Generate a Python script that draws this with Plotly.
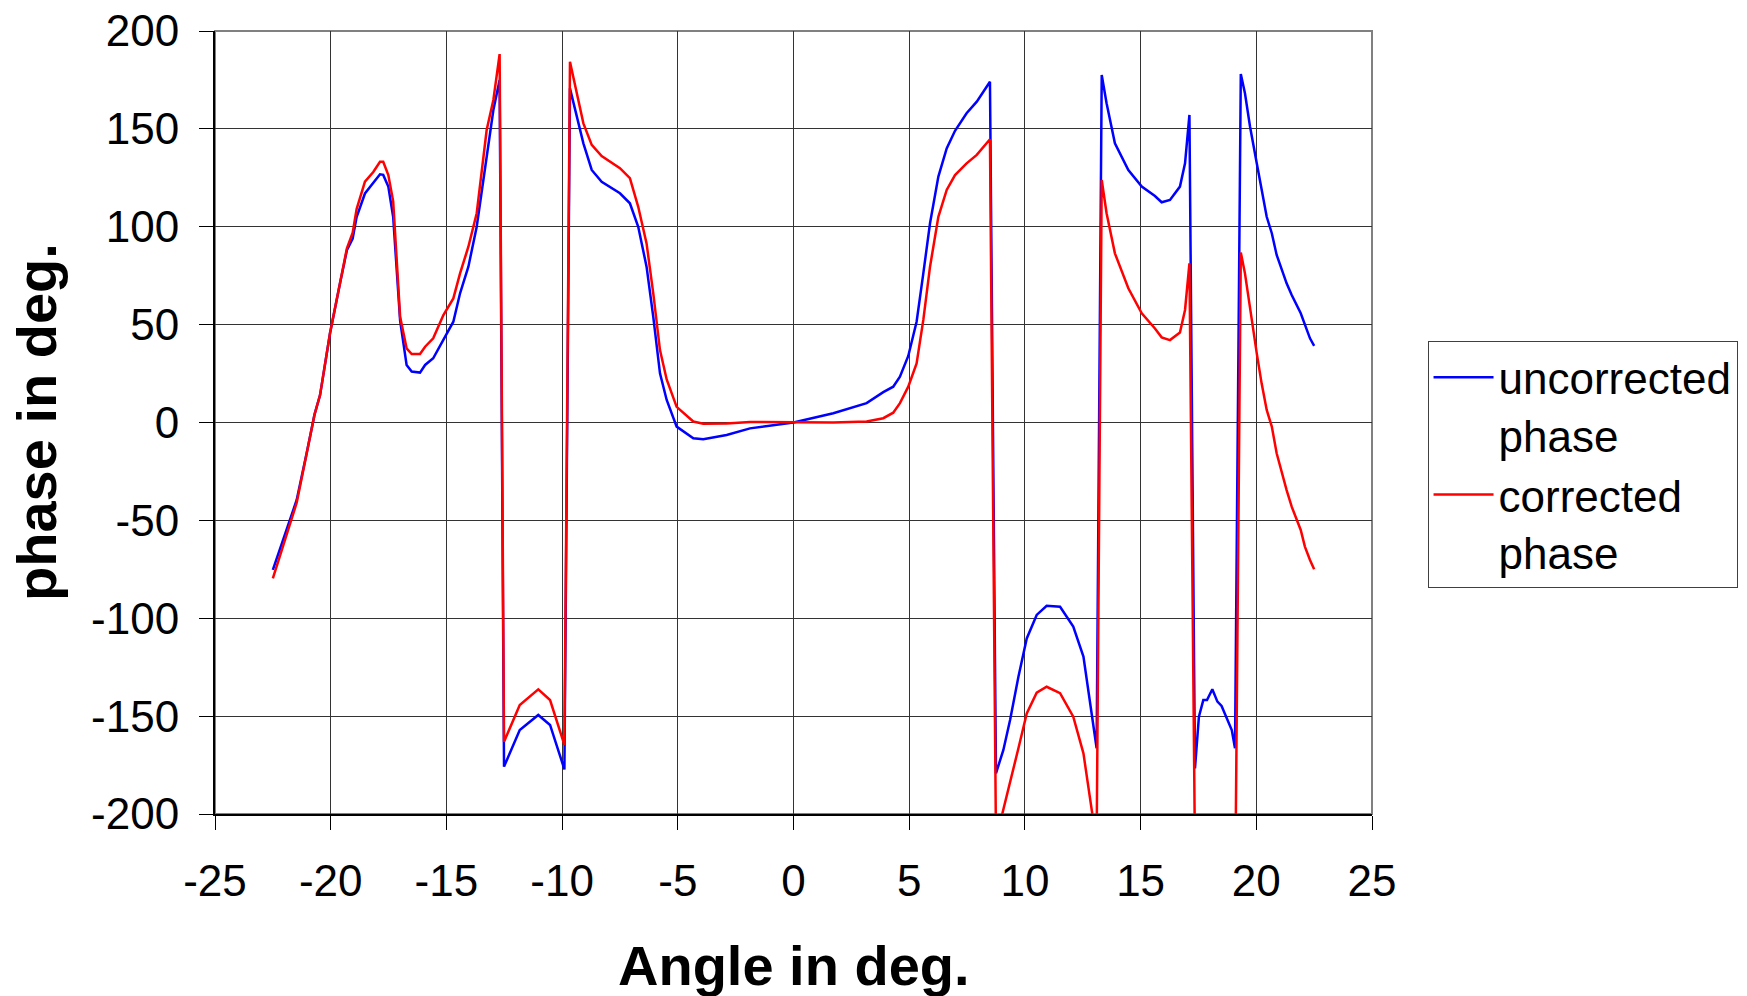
import plotly.graph_objects as go

angle = [-22.5, -21.76, -21.47, -21.04, -20.7, -20.46, -20.03, -19.6, -19.3, -19.05,
         -18.88, -18.52, -18.16, -17.87, -17.73, -17.51, -17.3, -17.0, -16.72, -16.5,
         -16.14, -15.92, -15.57, -15.13, -14.7, -14.41, -14.05, -13.69, -13.26, -12.97,
         -12.7, -12.51, -11.83, -11.03, -10.52, -9.9, -9.66, -9.08, -8.72, -8.29,
         -7.5, -7.07, -6.71, -6.35, -6.06, -5.77, -5.48, -5.05, -4.33, -3.9,
         -2.89, -1.88, 0.0, 1.72, 3.16, 3.88, 4.31, 4.6, 4.96, 5.32,
         5.61, 5.9, 6.26, 6.62, 6.98, 7.48, 7.92, 8.49, 8.75, 9.07,
         9.36, 9.72, 10.08, 10.51, 10.94, 11.52, 12.09, 12.53, 13.1, 13.32,
         13.53, 13.89, 14.47, 15.05, 15.62, 15.91, 16.27, 16.7, 16.92, 17.11,
         17.35, 17.52, 17.71, 17.87, 18.1, 18.32, 18.5, 18.7, 18.94, 19.08,
         19.33, 19.51, 19.73, 20.02, 20.23, 20.45, 20.67, 20.88, 21.31, 21.53,
         21.92, 22.1, 22.32, 22.5]

uncorrected = [-75.3, -49.8, -39.6, -15.7, 4.0, 14.0, 45.6, 71.0, 88.0, 94.0,
               105.0, 117.0, 122.5, 126.8, 126.5, 120.5, 105.0, 52.0, 29.4, 26.0,
               25.5, 29.4, 32.8, 42.1, 51.5, 66.0, 79.6, 100.0, 135.8, 159.6,
               175.0, -175.8, -157.1, -149.4, -154.5, -177.2, 170.7, 142.6, 129.0, 123.0,
               117.1, 112.0, 100.0, 79.6, 54.0, 25.1, 11.5, -2.1, -8.1, -8.6,
               -6.4, -3.0, 0.0, 4.7, 9.9, 15.5, 18.3, 23.4, 34.0, 51.5,
               76.2, 101.8, 125.6, 140.0, 149.0, 158.0, 163.9, 174.1, -179.2, -167.3,
               -152.0, -129.9, -110.3, -98.3, -93.6, -94.1, -104.3, -119.6, -166.4, 177.5,
               163.1, 142.6, 129.0, 120.5, 115.7, 112.5, 113.7, 120.5, 132.4, 157.1,
               -176.7, -150.3, -141.8, -141.8, -136.3, -142.6, -144.8, -150.3, -157.1, -166.4,
               178.0, 168.2, 151.1, 132.4, 118.8, 105.1, 96.7, 85.6, 71.1, 65.1,
               55.8, 49.8, 43.0, 39.2]

corrected = [-79.6, -52.0, -41.0, -16.0, 4.0, 14.0, 45.6, 71.0, 89.0, 97.0,
             109.0, 123.0, 128.0, 133.2, 133.2, 126.4, 113.0, 54.0, 37.9, 35.0,
             35.0, 38.7, 43.0, 54.9, 63.4, 76.2, 89.8, 106.9, 149.4, 164.8,
             188.2, -163.1, -144.3, -136.3, -141.8, -164.7, 184.3, 152.8, 141.8, 136.1,
             129.9, 124.8, 110.2, 91.5, 66.0, 37.0, 22.0, 8.0, 0.5, -0.6,
             -0.5, 0.3, 0.0, 0.0, 0.5, 2.2, 5.0, 9.9, 18.3, 30.2,
             52.4, 79.6, 105.1, 118.8, 126.4, 132.4, 136.7, 144.7, -213.0, -198.0,
             -184.3, -166.4, -148.6, -138.0, -135.0, -138.3, -150.3, -169.0, -215.0, 123.9,
             106.9, 86.4, 68.6, 55.8, 48.0, 43.5, 42.1, 46.0, 57.5, 81.3,
             -220.0, -230.0, -222.0, -222.0, -217.0, -223.0, -226.0, -232.0, -240.0, -250.0,
             86.9, 76.2, 57.5, 35.3, 20.0, 6.4, -2.1, -15.7, -34.5, -43.0,
             -54.9, -63.4, -70.2, -75.0]

x_tick_vals = [-25, -20, -15, -10, -5, 0, 5, 10, 15, 20, 25]
x_tick_text = ["-25", "-20", "-15", "-10", "-5", "0", "5", "10", "15", "20", "25"]
y_tick_vals = [200, 150, 100, 50, 0, -50, -100, -150, -200]
y_tick_text = ["200", "150", "100", "50", "0", "-50", "-100", "-150", "-200"]

FONT = "Liberation Sans, Arial, sans-serif"

fig = go.Figure()
fig.add_trace(go.Scatter(x=angle, y=uncorrected, mode="lines",
                         name="uncorrected<br>phase",
                         line=dict(color="#0000FF", width=2.5)))
fig.add_trace(go.Scatter(x=angle, y=corrected, mode="lines",
                         name="corrected<br>phase",
                         line=dict(color="#FF0000", width=2.5)))

fig.update_layout(
    width=1747, height=996,
    margin=dict(l=215, r=375, t=31, b=182, autoexpand=False),
    paper_bgcolor="white", plot_bgcolor="white",
    font=dict(family=FONT, size=44, color="black"),
    showlegend=True,
    legend=dict(x=1.048, y=0.604, xanchor="left", yanchor="top",
                bordercolor="#404040", borderwidth=1, bgcolor="white",
                font=dict(family=FONT, size=44, color="black"),
                tracegroupgap=0, itemwidth=60, valign="top"),
    xaxis=dict(range=[-25, 25], tickvals=x_tick_vals, ticktext=x_tick_text,
               showgrid=True, gridcolor="#333333", gridwidth=1,
               showline=True, linecolor="black", linewidth=2,
               ticks="outside", ticklen=14, tickcolor="black", tickwidth=1,
               ticklabelstandoff=13, zeroline=False, automargin=False,
               tickfont=dict(family=FONT, size=44)),
    yaxis=dict(range=[-200, 200], tickvals=y_tick_vals, ticktext=y_tick_text,
               showgrid=True, gridcolor="#333333", gridwidth=1,
               showline=True, linecolor="black", linewidth=2,
               ticks="outside", ticklen=14, tickcolor="black", tickwidth=1,
               ticklabelstandoff=11, zeroline=False, automargin=False,
               tickfont=dict(family=FONT, size=44)),
    shapes=[dict(type="rect", xref="paper", yref="paper", x0=0, y0=0, x1=1, y1=1,
                 line=dict(color="#808080", width=2), layer="below")],
    annotations=[
        dict(text="<b>Angle in deg.</b>", xref="paper", yref="paper",
             x=(794 - 215) / 1157, y=-(965 - 814) / 783, xanchor="center", yanchor="middle",
             showarrow=False, font=dict(family=FONT, size=56, color="black")),
        dict(text="<b>phase in deg.</b>", xref="paper", yref="paper",
             x=-(215 - 36) / 1157, y=(814 - 422) / 783, xanchor="center", yanchor="middle",
             textangle=-90, showarrow=False, font=dict(family=FONT, size=56, color="black")),
    ],
)

fig.write_html("out.html")
